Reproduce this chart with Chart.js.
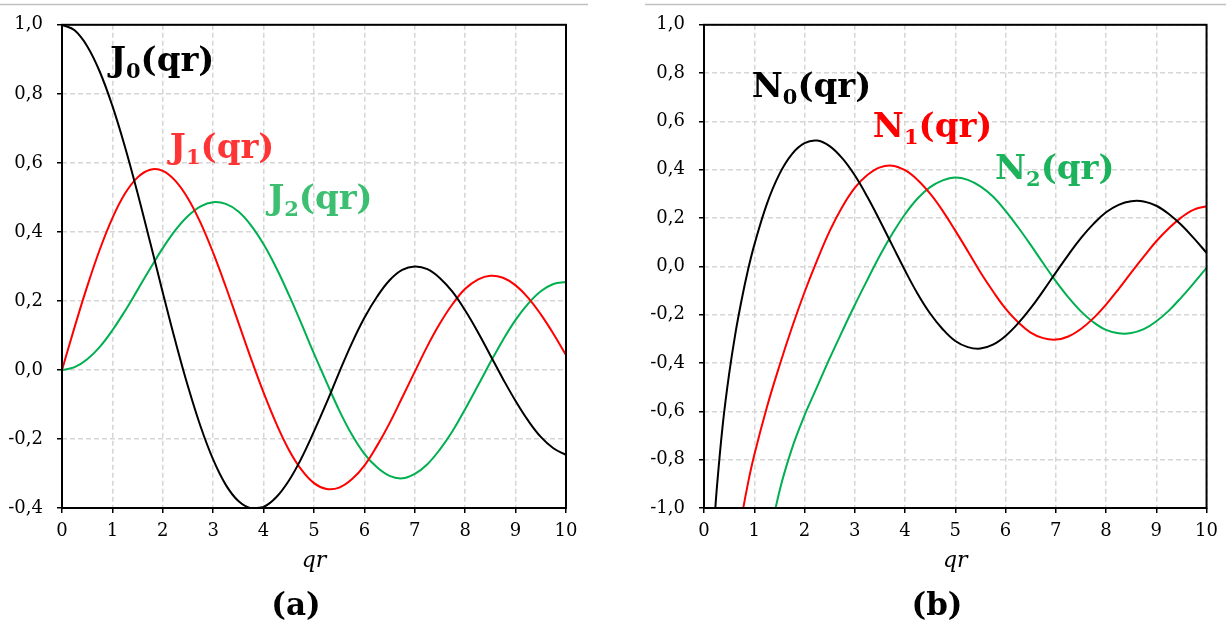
<!DOCTYPE html>
<html>
<head>
<meta charset="utf-8">
<script src="https://cdn.jsdelivr.net/npm/chart.js@4.4.1/dist/chart.umd.min.js"></script>
<style>
  body { margin: 0; background: #fff; width: 1226px; height: 624px; overflow: hidden; position: relative; }
  .panel { position: absolute; top: 0; height: 624px; }
</style>
</head>
<body>
<div class="panel" style="left:0;width:600px"><canvas id="chartA"></canvas></div>
<div class="panel" style="left:620px;width:606px"><canvas id="chartB"></canvas></div>
<script>
// x grid for the Bessel J curves (panel a)
var qrJ = [0, 0.25, 0.5, 0.75, 1, 1.25, 1.5, 1.75, 2, 2.25, 2.5, 2.75, 3, 3.25, 3.5, 3.75, 4, 4.25, 4.5, 4.75,
           5, 5.25, 5.5, 5.75, 6, 6.25, 6.5, 6.75, 7, 7.25, 7.5, 7.75, 8, 8.25, 8.5, 8.75, 9, 9.25, 9.5, 9.75, 10];
var j0 = [1.000, 0.984, 0.938, 0.864, 0.765, 0.646, 0.512, 0.369, 0.224, 0.083, -0.048, -0.164, -0.260, -0.333, -0.380, -0.401, -0.397, -0.369, -0.321, -0.256,
          -0.178, -0.095, -0.007, 0.077, 0.151, 0.212, 0.260, 0.290, 0.300, 0.292, 0.266, 0.226, 0.172, 0.110, 0.042, -0.026, -0.090, -0.147, -0.194, -0.227, -0.246];
var j1 = [0, 0.124, 0.242, 0.349, 0.440, 0.511, 0.558, 0.580, 0.577, 0.548, 0.497, 0.426, 0.339, 0.241, 0.137, 0.033, -0.066, -0.155, -0.231, -0.289,
          -0.328, -0.345, -0.341, -0.317, -0.277, -0.220, -0.154, -0.080, -0.005, 0.069, 0.135, 0.191, 0.235, 0.262, 0.273, 0.267, 0.245, 0.209, 0.161, 0.105, 0.043];
var j2 = [0, 0.008, 0.031, 0.067, 0.115, 0.171, 0.232, 0.294, 0.353, 0.405, 0.446, 0.474, 0.486, 0.481, 0.459, 0.419, 0.364, 0.296, 0.218, 0.134,
          0.047, -0.036, -0.117, -0.187, -0.243, -0.282, -0.307, -0.314, -0.301, -0.273, -0.230, -0.177, -0.113, -0.046, 0.022, 0.087, 0.145, 0.192, 0.228, 0.249, 0.255];

// x grid for the Neumann N curves (panel b), denser near 0 where they dive
var qrN = [0.2, 0.25, 0.375, 0.5, 0.625, 0.75, 0.875, 1, 1.25, 1.5, 1.75, 2, 2.25, 2.5, 2.75, 3, 3.25, 3.5, 3.75, 4, 4.25, 4.5, 4.75,
           5, 5.25, 5.5, 5.75, 6, 6.25, 6.5, 6.75, 7, 7.25, 7.5, 7.75, 8, 8.25, 8.5, 8.75, 9, 9.25, 9.5, 9.75, 10];
var n0 = [-1.081, -0.931, -0.652, -0.445, -0.277, -0.137, -0.015, 0.088, 0.258, 0.382, 0.465, 0.510, 0.521, 0.498, 0.448, 0.377, 0.288, 0.189, 0.086, -0.017, -0.113, -0.195, -0.260,
          -0.309, -0.334, -0.340, -0.324, -0.288, -0.236, -0.173, -0.101, -0.026, 0.048, 0.117, 0.176, 0.224, 0.255, 0.270, 0.269, 0.251, 0.217, 0.171, 0.116, 0.056];
var n1 = [null, null, null, -1.472, -1.215, -1.038, -0.898, -0.781, -0.584, -0.412, -0.253, -0.107, 0.025, 0.146, 0.246, 0.325, 0.378, 0.410, 0.417, 0.398, 0.358, 0.301, 0.230,
          0.148, 0.063, -0.024, -0.103, -0.175, -0.231, -0.274, -0.297, -0.303, -0.290, -0.259, -0.214, -0.158, -0.094, -0.026, 0.040, 0.104, 0.158, 0.203, 0.235, 0.249];
var n2 = [null, null, null, null, null, null, null, -1.651, -1.193, -0.932, -0.754, -0.617, -0.499, -0.381, -0.269, -0.160, -0.056, 0.045, 0.136, 0.216, 0.281, 0.328, 0.356,
          0.368, 0.358, 0.331, 0.289, 0.230, 0.162, 0.089, 0.013, -0.061, -0.128, -0.186, -0.231, -0.263, -0.277, -0.276, -0.260, -0.227, -0.183, -0.128, -0.068, -0.006];

// tick values
var xTicks = [0, 1, 2, 3, 4, 5, 6, 7, 8, 9, 10];
var yTicksA = [-0.4, -0.2, 0, 0.2, 0.4, 0.6, 0.8, 1.0];
var yTicksB = [-1.0, -0.8, -0.6, -0.4, -0.2, 0, 0.2, 0.4, 0.6, 0.8, 1.0];

var SERIF = '"DejaVu Serif", serif';

function toPoints(xs, ys) {
    return xs.map(function(x, i) { return {x: x, y: ys[i]}; })
             .filter(function(p) { return p.y !== null; });
}

function line(label, xs, ys, color) {
    return {
        label: label,
        data: toPoints(xs, ys),
        borderColor: color,
        borderWidth: 2,
        pointRadius: 0,
        fill: false,
        tension: 0.4
    };
}

// frame, top rule, function names and the (a)/(b) caption
var decor = {
    id: 'decor',
    beforeDraw: function(chart, args, opts) {
        var ctx = chart.ctx;
        ctx.save();
        ctx.strokeStyle = '#c0c0c0';
        ctx.lineWidth = 1.5;
        ctx.beginPath();
        ctx.moveTo(opts.rule[0], 4.5);
        ctx.lineTo(opts.rule[1], 4.5);
        ctx.stroke();
        ctx.restore();
    },
    afterDatasetsDraw: function(chart, args, opts) {
        var ctx = chart.ctx, a = chart.chartArea;
        var xs = chart.scales.x, ys = chart.scales.y;
        ctx.save();
        ctx.strokeStyle = '#000';
        ctx.lineWidth = 2;
        ctx.strokeRect(a.left, a.top, a.right - a.left, a.bottom - a.top);

        opts.names.forEach(function(n) {
            var size = 34;
            var px = xs.getPixelForValue(n.x), py = ys.getPixelForValue(n.y);
            ctx.fillStyle = n.color;
            ctx.textBaseline = 'alphabetic';
            ctx.textAlign = 'left';
            ctx.font = 'bold ' + size + 'px ' + SERIF;
            ctx.fillText(n.main, px, py);
            px += ctx.measureText(n.main).width;
            ctx.font = 'bold ' + Math.round(size * 0.62) + 'px ' + SERIF;
            ctx.fillText(n.sub, px, py + size * 0.2);
            px += ctx.measureText(n.sub).width;
            ctx.font = 'bold ' + size + 'px ' + SERIF;
            ctx.fillText(n.rest, px, py);
        });

        ctx.fillStyle = '#000';
        ctx.font = 'bold 31px ' + SERIF;
        ctx.textAlign = 'center';
        ctx.textBaseline = 'alphabetic';
        ctx.fillText(opts.caption, opts.captionX, 615);
        ctx.restore();
    }
};

function makeChart(id, datasets, yTicks, yMin, yMax, yWidth, pad, decorOpts) {
    var ctx = document.getElementById(id).getContext('2d');
    return new Chart(ctx, {
        type: 'line',
        data: {datasets: datasets},
        plugins: [decor],
        options: {
            responsive: true,
            maintainAspectRatio: false,
            animation: false,
            events: [],
            layout: {padding: pad},
            plugins: {
                legend: {display: false},
                tooltip: {enabled: false},
                decor: decorOpts
            },
            scales: {
                x: {
                    type: 'linear',
                    min: 0,
                    max: 10,
                    afterBuildTicks: function(s) { s.ticks = xTicks.map(function(v) { return {value: v}; }); },
                    afterFit: function(s) { s.height = 66; },
                    grid: {color: '#d6d6d6', lineWidth: 1.5, tickColor: '#000', tickLength: 5, tickWidth: 1.5, tickBorderDash: []},
                    border: {display: false, dash: [5, 3]},
                    ticks: {color: '#000', padding: 8, font: {family: SERIF, size: 18}, maxRotation: 0,
                            callback: function(v) { return String(v); }},
                    title: {display: true, text: 'qr', color: '#000', padding: {top: 0, bottom: 0},
                            font: {family: SERIF, size: 22, style: 'italic'}}
                },
                y: {
                    type: 'linear',
                    min: yMin,
                    max: yMax,
                    afterBuildTicks: function(s) { s.ticks = yTicks.map(function(v) { return {value: v}; }); },
                    afterFit: function(s) { s.width = yWidth; },
                    grid: {color: '#d6d6d6', lineWidth: 1.5, tickColor: '#000', tickLength: 5, tickWidth: 1.5, tickBorderDash: []},
                    border: {display: false, dash: [5, 3]},
                    ticks: {color: '#000', padding: 14, font: {family: SERIF, size: 18},
                            callback: function(v) { return v.toFixed(1).replace('.', ','); }}
                }
            }
        }
    });
}

makeChart('chartA',
    [line('J0', qrJ, j0, '#000000'), line('J1', qrJ, j1, '#ff0000'), line('J2', qrJ, j2, '#00b050')],
    yTicksA, -0.4, 1.0, 62, {left: 0, right: 34, top: 21, bottom: 50},
    {
        rule: [0, 588],
        caption: '(a)',
        captionX: 296,
        names: [
            {main: 'J', sub: '0', rest: '(qr)', x: 0.95, y: 0.865, color: '#000000'},
            {main: 'J', sub: '1', rest: '(qr)', x: 2.14, y: 0.615, color: '#ff3535'},
            {main: 'J', sub: '2', rest: '(qr)', x: 4.09, y: 0.465, color: '#3cbf70'}
        ]
    });

makeChart('chartB',
    [line('N0', qrN, n0, '#000000'), line('N1', qrN, n1, '#ff0000'), line('N2', qrN, n2, '#00b050')],
    yTicksB, -1.0, 1.0, 84, {left: 0, right: 19, top: 22, bottom: 50},
    {
        rule: [25, 606],
        caption: '(b)',
        captionX: 317,
        names: [
            {main: 'N', sub: '0', rest: '(qr)', x: 0.95, y: 0.70, color: '#000000'},
            {main: 'N', sub: '1', rest: '(qr)', x: 3.36, y: 0.535, color: '#ff0000'},
            {main: 'N', sub: '2', rest: '(qr)', x: 5.79, y: 0.362, color: '#1db35c'}
        ]
    });
</script>
</body>
</html>
